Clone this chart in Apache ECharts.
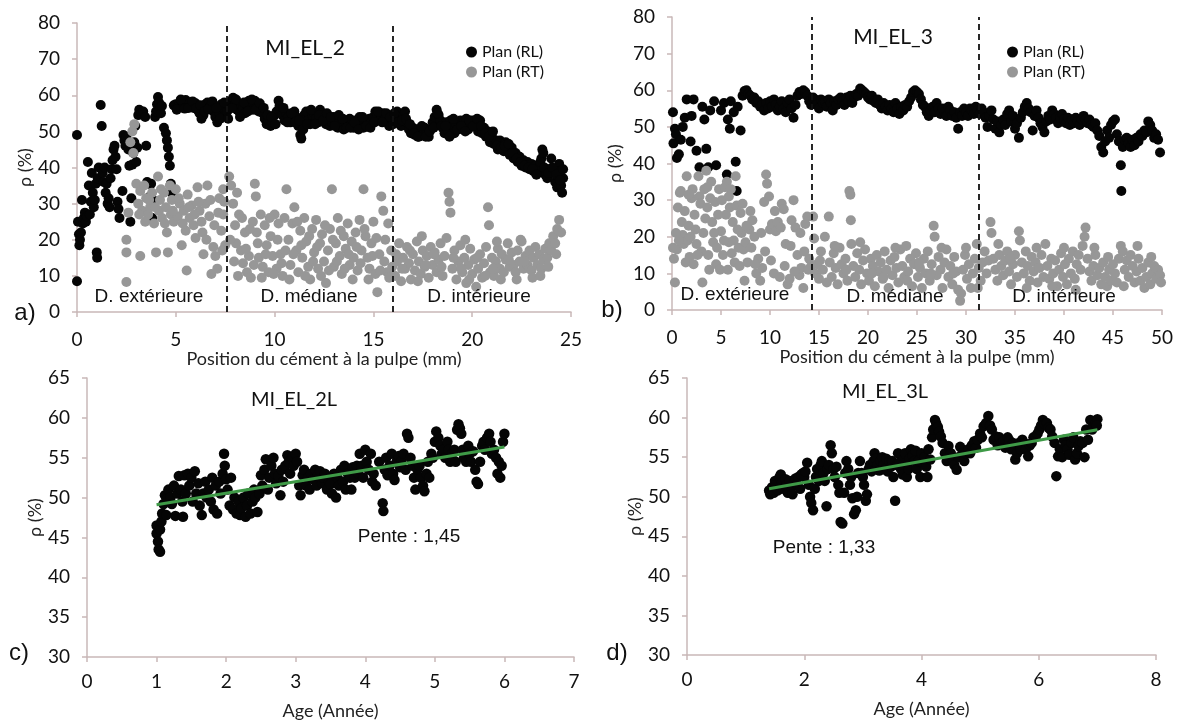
<!DOCTYPE html>
<html><head><meta charset="utf-8">
<script src="https://cdn.jsdelivr.net/npm/echarts@6/dist/echarts.min.js"></script>
<style>html,body{margin:0;padding:0;background:#fff}#c{width:1181px;height:722px}</style>
</head><body><div id="c"></div>
<script>
// ---------- DATA ----------
const seriesNames = ['Plan (RL)', 'Plan (RT)'];
const panelTitles = ['MI_EL_2', 'MI_EL_3', 'MI_EL_2L', 'MI_EL_3L'];
const zoneNames = ['D. extérieure', 'D. médiane', 'D. intérieure'];
const slopeLabels = ['Pente : 1,45', 'Pente : 1,33'];
const aZoneBounds = [7.6, 16.0];
const bZoneBounds = [14.3, 31.3];

const aRL = [[0.0,49],[0.0,8.5],[0.05,25],[0.1,21.5],[0.12,18.5],[0.15,20],[0.2,22],[0.25,31],[0.3,24.5],[0.35,26],[0.4,27.5],[0.45,25],[0.5,26.5],[0.55,41.5],[0.6,35],[0.65,27],[0.7,30.5],[0.75,38.5],[0.8,33],[0.85,29],[0.9,31],[0.95,35.5],[1.0,16.5],[1.02,15],[1.05,37],[1.1,40],[1.2,57.3],[1.25,51.5],[1.3,38.5],[1.35,36],[1.4,40],[1.45,33],[1.5,35.5],[1.55,30],[1.6,31.5],[1.65,29],[1.7,37],[1.75,39.5],[1.8,42],[1.85,45],[1.9,46],[1.95,43],[2.0,39.5],[2.05,30.5],[2.1,28.5],[2.15,26],[2.3,33.5],[2.35,49],[2.4,47.5],[2.45,46],[2.5,48.5],[2.6,45],[2.65,40.5],[2.7,25],[2.75,31.5],[2.8,40.8],[2.85,44],[2.9,47],[2.95,51.5],[3.0,41.5],[3.05,45.5],[3.1,54.5],[3.15,56],[3.25,55],[3.35,55.5],[3.45,54],[3.5,46],[3.55,36],[3.6,35.5],[3.7,32],[3.75,35.5],[3.8,26],[3.85,31],[3.95,54],[4.0,55.5],[4.05,57.5],[4.1,59.5],[4.15,58],[4.2,56.5],[4.25,55],[4.3,57],[4.4,51],[4.5,49.5],[4.55,47.5],[4.6,45.5],[4.65,43],[4.7,40.5],[4.75,35.5],[4.8,33],
[4.9,57.2],[5.0,57.5],[5.1,56.8],[5.2,57.8],[5.3,58.3],[5.4,57.5],[5.5,58.7],[5.6,57.2],[5.7,58.0],[5.8,57.0],[5.9,56.5],[6.0,57.8],[6.1,56.0],[6.2,55.0],[6.3,53.5],[6.4,54.5],[6.5,57.5],[6.6,58.0],[6.7,56.5],[6.8,57.5],[6.9,55.5],[7.0,54.0],[7.1,52.5],[7.2,55.0],[7.3,57.5],[7.4,56.5],[7.5,54.5],[7.6,55.5],[7.7,57.0],[7.8,58.5],[7.9,59.3],[8.0,57.5],[8.1,56.0],[8.2,55.5],[8.3,57.0],[8.4,56.5],[8.5,55.0],[8.6,57.5],[8.7,58.5],[8.8,57.0],[8.9,56.0],[9.0,58.5],[9.1,57.0],[9.2,55.5],[9.3,56.5],[9.4,55.0],[9.5,53.5],[9.6,52.0],[9.7,53.0],[9.8,51.5],[9.9,52.5],[10.0,54.5],[10.1,55.5],[10.2,58.5],[10.3,56.0],[10.4,54.5],[10.5,53.0],[10.6,55.0],[10.7,54.0],[10.8,52.5],[10.9,53.5],[11.0,55.5],[11.1,54.0],[11.2,51.5],[11.3,49.0],[11.35,48.0],[11.4,52.0],[11.5,54.5],[11.6,55.5],[11.7,53.0],[11.8,52.0],[11.9,54.5],[12.0,55.0],[12.1,53.5],[12.2,52.5],[12.3,56.0],[12.4,55.0],[12.5,54.0],[12.6,52.0],[12.7,53.5],[12.8,51.5],[12.9,52.5],[13.0,54.0],[13.1,52.5],[13.2,51.0],[13.3,53.0],[13.4,52.0],[13.5,50.5],[13.6,52.5],[13.7,51.5],[13.8,53.5],[13.9,52.0],[14.0,51.0],[14.1,53.0],[14.2,52.0],[14.3,54.0],[14.4,52.5],[14.5,51.0],[14.6,53.0],[14.7,52.0],[14.8,53.5],[14.9,52.5],[15.0,54.0],[15.1,55.5],[15.2,54.5],[15.3,53.0],[15.4,54.0],[15.5,55.0],[15.6,53.5],[15.7,52.5],[15.8,51.5],[15.9,53.5],[16.0,52.0],[16.1,54.0],[16.2,55.5],[16.3,53.0],[16.4,51.5],[16.5,54.5],[16.6,55.5],[16.7,52.5],[16.8,50.5],[16.9,49.5],[17.0,51.0],[17.1,49.0],[17.2,50.5],[17.3,48.5],[17.4,50.0],[17.5,49.0],[17.6,51.0],[17.7,49.5],[17.8,48.5],[17.9,50.5],[18.0,52.5],[18.1,54.0],[18.2,56.0],[18.3,54.5],[18.4,53.0],[18.5,51.0],[18.6,49.5],[18.7,52.5],[18.8,50.0],[18.9,53.0],[19.0,51.5],[19.1,49.5],[19.2,52.0],[19.3,50.5],[19.4,53.0],[19.5,51.5],[19.6,52.5],[19.7,53.5],[19.8,50.5],[19.9,52.5],[20.0,53.0],[20.1,51.5],[20.2,52.5],[20.3,50.0],[20.4,53.0],[20.5,49.5],[20.6,51.0],[20.7,48.5],[20.8,50.0],[20.9,47.0],[21.0,48.5],[21.1,46.5],[21.2,47.5],[21.3,45.0],[21.4,47.5],[21.5,46.0],[21.6,44.5],[21.7,47.0],[21.8,45.0],[21.9,43.5],[22.0,45.5],[22.1,42.5],[22.2,44.0],[22.3,41.5],[22.4,43.0],[22.5,40.5],[22.6,42.0],[22.7,40.0],[22.8,41.5],[22.9,39.5],[23.0,41.0],[23.1,39.0],[23.2,40.5],[23.3,38.5],[23.4,40.0],[23.5,42.5],[23.55,45.0],[23.6,44.0],[23.7,38.0],[23.8,37.0],[23.9,39.5],[24.0,42.5],[24.1,38.5],[24.2,36.0],[24.3,34.5],[24.35,37.5],[24.4,41.0],[24.45,39.0],[24.5,35.0],[24.55,33.0],[24.6,37.0],
[5.05,56],[5.25,58.8],[5.45,56.3],[5.65,56.5],[5.85,58.3],[6.05,56.5],[6.25,57.2],[6.45,55.5],[6.65,56.2],[6.85,58.3],[7.05,56.5],[7.25,53.5],[7.45,58],[7.65,53.5],[7.85,56.5],[8.05,58.8],[8.25,54],[8.45,58],[8.65,55.5],[8.85,58.8],[9.05,56],[9.25,57.8],[9.45,56.5],[9.65,54.5],[9.85,54],[10.05,52],[10.25,57],[10.45,56.5],[10.65,52.5],[10.85,55],[11.05,52.5],[11.25,53],[11.45,50.5],[11.65,52],[11.85,56],[12.05,52],[12.25,54.5],[12.45,53],[12.65,55],[12.85,54],[13.05,51.5],[13.25,54.5],[13.45,53.5],[13.65,51],[13.85,51],[14.05,52.5],[14.25,50.5],[14.45,54],[14.65,51.5],[14.85,51],[15.05,52.5],[15.25,55.5],[15.45,52.5],[15.65,55],[15.85,54],[16.05,55],[16.25,52.5],[16.45,53],[16.65,53.5],[16.85,52],[17.05,49.5],[17.25,48.5],[17.45,51.5],[17.65,48.5],[17.85,50],[18.05,51],[18.25,55],[18.45,51.5],[18.65,51.5],[18.85,48.5],[19.05,53.5],[19.25,50.5],[19.45,51.5],[19.65,50],[19.85,53],[20.05,51.5],[20.25,53.5],[20.45,51.5],[20.65,49.5],[20.85,48.5],[21.05,50],[21.25,46],[21.45,45.5],[21.65,46],[21.85,46.5],[22.05,44],[22.25,42.5],[22.45,41.5],[22.65,40.5],[22.85,40],[23.05,39.5],[23.25,38],[23.45,41.5],[23.65,40],[23.85,38.5],[24.05,40],[24.25,38],[24.45,36.5],[24.6,39.5]];

const aRT = [[2.5,20],[2.5,16.5],[2.5,8.3],[2.6,27.5],[2.7,47],[2.8,50],[2.9,52],[2.85,44],[3.0,35.5],[3.1,30],[3.2,15.5],[3.2,33.5],[3.3,28],[3.4,35],[3.5,31.5],[3.6,27],[3.7,29],[3.8,33],[3.9,24.5],[4.0,16.5],[4.1,37.5],[4.15,28],[4.2,31],[4.3,26],[4.4,33],[4.5,29],[4.55,22],[4.6,16.5],[4.7,35],[4.75,27],[4.8,31],[4.9,25],
[5.0,34],[5.1,26.5],[5.2,30],[5.3,18.5],[5.4,28],[5.5,22.5],[5.55,11.5],[5.6,32.5],[5.7,26],[5.8,29.5],[5.9,24],[6.0,20.5],[6.1,34.5],[6.2,28],[6.3,25],[6.4,16],[6.5,30],[6.6,35],[6.7,26.5],[6.8,10.5],[6.9,18],[7.0,15.5],[7.1,12],[7.2,31.5],[7.3,22.5],[7.4,27],[7.5,18.5],[7.4,34],
[7.7,37.5],[7.8,35],[7.9,30],[8.0,24],[8.05,19],[8.1,33],[8.2,27],[8.3,17],[8.4,13.5],[8.5,22],[8.6,11],[8.7,15.5],[8.8,9.5],[8.9,25],[9.0,35.5],[9.05,32],[9.1,22],[9.2,15],[9.3,27],[9.4,12.5],[9.5,24],[9.6,18.5],[9.7,11],[9.8,21],[9.9,15.5],[10.0,27],[10.1,12],[10.2,24.5],[10.3,16],[10.4,10],[10.5,26],[10.6,34],[10.7,20],[10.8,13],[10.9,24.5],[11.0,29],[11.1,17],[11.2,11],[11.3,22.5],[11.4,15],[11.5,26],[11.6,19.5],[11.7,12.5],[11.8,9],[11.9,23],[12.0,16.5],[12.1,25.5],[12.2,12],[12.3,19],[12.4,21.5],[12.5,14],[12.6,8],[12.7,17],[12.8,23],[12.9,34],[13.0,12.5],[13.1,19],[13.2,26],[13.3,15.5],[13.4,10.5],[13.5,21],[13.6,17.5],[13.7,24.5],[13.8,13],[13.9,19.5],[14.0,15],[14.1,22],[14.2,11.5],[14.3,25.5],[14.4,17],[14.5,34],[14.6,21],[14.7,15],[14.8,12],[14.9,19],[15.0,25],[15.1,10.5],[15.2,5.5],[15.3,16],[15.4,32],[15.5,28],[15.6,20],[15.7,11],[15.8,9.5],[15.9,17],
[16.1,10],[16.2,14],[16.3,19],[16.4,8.5],[16.5,15],[16.6,12],[16.7,18],[16.8,13.5],[16.9,9],[17.0,16],[17.1,11.5],[17.2,19.5],[17.3,14],[17.4,10.5],[17.5,17],[17.6,12.5],[17.7,15.5],[17.8,9.5],[17.9,18],[18.0,13],[18.1,16.5],[18.2,11],[18.3,14.5],[18.4,19],[18.5,10],[18.6,15.5],[18.7,20.5],[18.8,33],[18.85,30.5],[18.9,27.5],[19.0,12],[19.1,17],[19.2,9],[19.3,14],[19.4,18.5],[19.5,11],[19.6,15],[19.7,8],[19.8,13],[19.9,17.5],[20.0,10.5],[20.1,14.5],[20.2,7],[20.3,12],[20.4,16],[20.5,9.5],[20.6,13.5],[20.7,18],[20.8,29],[20.85,24],[20.9,11],[21.0,15],[21.1,10],[21.2,14],[21.3,17.5],[21.4,12],[21.5,16],[21.6,11],[21.7,14.5],[21.8,19],[21.9,12.5],[22.0,16.5],[22.1,13],[22.2,11],[22.3,17],[22.4,14],[22.5,19.5],[22.6,12],[22.7,15.5],[22.8,13],[22.9,17],[23.0,11.5],[23.1,15],[23.2,18],[23.3,13],[23.4,16],[23.5,12],[23.6,14.5],[23.7,17.5],[23.8,15],[23.9,19],[24.0,17],[24.1,21],[24.2,19],[24.3,23],[24.4,25.5],[24.5,22],
[16.15,16],[16.45,12],[16.85,17],[17.25,8.5],[17.65,13],[18.05,16],[18.45,12.5],[19.05,15],[19.45,12],[19.85,9],[20.25,15],[20.65,10],[21.05,12],[21.45,9],[21.85,14.5],[22.25,9],[22.65,14],[23.05,9.5],[23.45,10],[23.85,12.5],[24.25,16],[22.45,20],[21.25,19.5],[19.65,20],[17.45,21],
[7.75,20],[7.95,14],[8.15,10],[8.35,26],[8.55,17.5],[8.75,23],[8.95,13],[9.15,19],[9.35,9.5],[9.55,16],[9.75,26],[9.95,10.5],[10.15,20],[10.35,13.5],[10.55,17],[10.75,9],[10.95,16],[11.15,25],[11.35,18.5],[11.55,10],[11.75,21],[11.95,14],[12.15,18],[12.35,10],[12.55,24],[12.75,11.5],[12.95,20],[13.15,14],[13.35,22.5],[13.55,12],[13.75,16],[13.95,9],[14.15,18],[14.35,13.5],[14.55,23],[14.75,9],[14.95,15.5],[15.15,20.5],[15.35,11.5],[15.55,14],[15.75,24.5],[15.95,12.5],
[3.15,27],[3.45,25],[3.65,31],[3.95,29],[4.25,34],[4.45,24.5],[4.85,28],[5.15,31.5],[5.35,24.5],[5.65,29],[5.95,27],[6.15,30.5],[6.35,22],[6.55,20],[6.75,31],[6.95,24],[7.15,27.5],[7.35,17],[7.45,30.5]];

const bRL = [[0.1,54],[0.15,45.5],[0.3,49.5],[0.4,48],[0.5,41.5],[0.7,42.5],[0.9,46.5],[1.1,50],[1.3,52.5],[1.5,57.5],[1.9,46],[2.0,53],[2.2,57.5],[2.5,43.5],[2.8,39],[3.1,55.5],[3.3,52],[3.5,44],[3.7,39],[3.9,54.5],[4.3,57],[4.5,39.5],[5.0,54.5],[5.3,56.5],[5.6,37],[5.7,52],[5.9,49.5],[6.0,57],[6.3,54],[6.5,40.5],[6.6,32.5],[6.7,55.5],[7.0,49],
[7.2,58.5],[7.4,59.8],[7.6,60],[7.8,59],[8.0,58.5],[8.2,57.5],[8.4,58],[8.6,56.5],[8.8,57],[9.0,55.5],[9.2,56],[9.4,54.5],[9.6,56.5],[9.8,55],[10.0,57],[10.2,55.5],[10.4,57.5],[10.6,56],[10.8,54.5],[11.0,55.5],[11.2,57],[11.4,55],[11.6,54],[11.8,56.5],[12.0,57.5],[12.2,55],[12.4,52.5],[12.6,56],[12.8,58.5],[13.0,59.5],[13.2,59],[13.4,60],[13.6,59.5],[13.8,58.5],[14.0,57],[14.2,56],[14.4,58],[14.6,57.5],[14.8,56],[15.0,55],[15.2,57.5],[15.4,56.5],[15.6,57],[15.8,55.5],[16.0,57.5],[16.2,56.5],[16.4,54.5],[16.6,57],[16.8,56],[17.0,57.5],[17.2,58],[17.4,57],[17.6,56],[17.8,58],[18.0,57],[18.2,58.5],[18.4,56.5],[18.6,58],[18.8,59],[19.0,58.5],[19.2,60.5],[19.4,60],[19.6,59.5],[19.8,59],[20.0,58],[20.2,57.5],[20.4,58.5],[20.6,57],[20.8,56.5],[21.0,57.5],[21.2,56],[21.4,55],[21.6,56.5],[21.8,55.5],[22.0,54.5],[22.2,56],[22.4,55],[22.6,54],[22.8,56.5],[23.0,55],[23.2,53.5],[23.4,55.5],[23.6,54.5],[23.8,56],[24.0,55.5],[24.2,57],[24.4,58],[24.6,59.5],[24.8,60],[25.0,59.5],[25.2,59],[25.4,57.5],[25.6,56],[25.8,55.5],[26.0,54],[26.2,53],[26.4,54.5],[26.6,55.5],[26.8,54],[27.0,56.5],[27.2,55],[27.4,53.5],[27.6,55],[27.8,54],[28.0,53],[28.2,55.5],[28.4,54.5],[28.6,53],[28.8,54],[29.0,52.5],[29.2,49.5],[29.4,54],[29.6,53],[29.8,55],[30.0,54],[30.2,53],[30.4,55],[30.6,54.5],[30.8,53.5],[31.0,55.5],[31.2,54.5],[31.4,53.5],[31.6,55],[31.8,54],[32.0,52.5],[32.2,50],[32.4,53],[32.6,54.5],[32.8,52],[33.0,49.5],[33.2,51.5],[33.4,48.5],[33.6,50.5],[33.8,52],[34.0,50.5],[34.2,53.5],[34.4,54.5],[34.6,51.5],[34.8,53],[35.0,49.5],[35.2,51],[35.4,47],[35.6,52.5],[35.8,54],[36.0,55.5],[36.2,56.5],[36.4,55],[36.6,54],[36.8,49],[37.0,53],[37.2,54.5],[37.4,52.5],[37.6,51],[37.8,50],[38.0,48.5],[38.2,51.5],[38.4,53],[38.6,52],[38.8,54.5],[39.0,53.5],[39.2,52.5],[39.4,51],[39.6,52.5],[39.8,53.5],[40.0,52],[40.2,51],[40.4,52.5],[40.6,50.5],[40.8,52],[41.0,51],[41.2,52.5],[41.4,51.5],[41.6,50.5],[41.8,52],[42.0,53],[42.2,52],[42.4,51],[42.6,52],[42.8,50.5],[43.0,50],[43.2,51],[43.4,49],[43.6,47.5],[43.8,44.5],[44.0,43],[44.2,46],[44.4,49],[44.6,47],[44.8,50.5],[45.0,51.5],[45.2,52],[45.4,48],[45.6,46],[45.8,39.5],[45.85,32.5],[46.0,44.5],[46.2,46.5],[46.4,47],[46.6,45.5],[46.8,44.5],[47.0,46.5],[47.2,45],[47.4,47],[47.6,46],[47.8,48],[48.0,47.5],[48.2,49],[48.4,48.5],[48.6,51.5],[48.8,50.5],[49.0,49],[49.2,47],[49.4,48],[49.6,46.5],[49.8,43]];

const bRT = [[0.1,17],[0.2,14],[0.3,7.5],[0.5,16.5],[0.6,28],[0.8,32],[0.9,32.5],[1.0,24],[1.1,20.5],[1.2,18],[1.4,13],[1.5,36.5],[1.6,19],[1.7,23],[1.8,14.5],[1.9,20],[2.0,30.5],[2.1,33],[2.2,12.5],[2.4,22],[2.5,18],[2.7,36.5],[2.8,31],[2.9,29],[3.0,16],[3.1,7.5],[3.2,21],[3.3,33],[3.5,38],[3.6,28],[3.7,15],[3.8,11],[3.9,30.5],[4.0,35],[4.1,24],[4.2,18.5],[4.4,29.5],[4.5,12.5],[4.6,17],[4.8,33],[4.9,11],[5.0,21.5],[5.1,30],[5.2,15],[5.4,33.5],[5.5,26],[5.6,35],[5.7,11],[5.8,18.5],[5.9,28],[6.0,33],[6.2,24],[6.3,19],[6.4,13],[6.5,36.5],[6.6,28.5],[6.8,17],[6.9,12],[7.0,26.5],[7.1,21],[7.3,16.5],[7.4,8],[7.5,18.5],[7.7,13],[7.9,22],[8.0,27],[8.2,24.5],[8.4,20],[8.6,10],[8.8,14],[9.0,8],[9.2,11.5],[9.4,29.5],[9.6,37],[9.7,34.5],[9.9,31],[10.0,22],[10.2,23.5],[10.4,10],[10.6,21.5],[10.8,24],[11.0,9],[11.2,29],[11.4,27.5],[11.6,18],[11.8,7],[12.0,8.5],[12.2,24.5],[12.4,30],[12.6,22.5],[12.8,15],[13.0,9.5],[13.2,11.5],[13.4,6],[13.6,23.5],[13.8,25.5],[14.0,14],[14.2,12],
[14.4,25.5],[14.5,19.5],[14.6,10],[14.8,12.5],[15.0,8.5],[15.2,16],[15.4,11],[15.6,20],[15.8,7.5],[16.0,25.5],[16.1,13],[16.3,9],[16.5,15.5],[16.7,11.5],[16.9,7],[17.1,17],[17.3,12.5],[17.5,10],[17.7,14],[17.9,8],[18.1,32.5],[18.2,31.5],[18.25,24.5],[18.3,18],[18.5,12],[18.7,9],[18.9,15.5],[19.1,11],[19.3,7],[19.5,13.5],[19.7,16.5],[19.9,10],[20.1,8],[20.3,14],[20.5,12],[20.7,6.5],[20.9,15],[21.1,10.5],[21.3,13],[21.5,8.5],[21.7,16],[21.9,11],[22.1,6],[22.3,13.5],[22.5,9.5],[22.7,14.5],[22.9,11.5],[23.1,7.5],[23.3,16.5],[23.5,12],[23.7,9],[23.9,17.5],[24.1,10.5],[24.3,14],[24.5,6.5],[24.7,12.5],[24.9,15.5],[25.1,9],[25.3,11.5],[25.5,6],[25.7,14],[25.9,10],[26.1,16],[26.3,8],[26.5,12.5],[26.7,23],[26.8,20],[27.0,9.5],[27.2,14.5],[27.4,11],[27.6,6],[27.8,13],[28.0,16.5],[28.2,9],[28.4,12],[28.6,7],[28.8,14.5],[29.0,10.5],[29.2,5.5],[29.4,2.5],[29.5,4.5],[29.7,11],[29.9,15],[30.1,8.5],[30.3,12.5],[30.5,6],[30.7,10],[30.9,14],[31.1,18],[31.3,11.5],[31.5,8],[31.7,13],[31.9,16],[32.1,10],[32.3,13.5],[32.5,24],[32.6,21],[32.8,14],[33.0,11],[33.2,8],[33.4,15],[33.6,12],[33.8,9.5],[34.0,13.5],[34.2,16],[34.4,10.5],[34.6,7],[34.8,12.5],[35.0,15],[35.2,9],[35.4,21.5],[35.5,19],[35.7,13],[35.9,10],[36.1,16],[36.3,12],[36.5,8],[36.7,14.5],[36.9,10.5],[37.1,13],[37.3,7.5],[37.5,11.5],[37.7,15],[37.9,9],[38.1,18],[38.3,12],[38.5,8.5],[38.7,14],[38.9,10],[39.1,13.5],[39.3,6.5],[39.5,11],[39.7,15.5],[39.9,9],[40.1,12.5],[40.3,7],[40.5,14],[40.7,10],[40.9,16],[41.1,8.5],[41.3,12.5],[41.5,15],[41.7,11],[41.9,17.5],[42.1,20],[42.2,22.5],[42.4,14],[42.6,10.5],[42.8,8],[43.0,12],[43.2,15],[43.4,9.5],[43.6,11.5],[43.8,7],[44.0,13],[44.2,9],[44.4,6.5],[44.6,11],[44.8,8],[45.0,12.5],[45.2,10],[45.4,7.5],[45.6,14],[45.8,17.5],[46.0,16],[46.2,11],[46.4,13.5],[46.6,9],[46.8,15],[47.0,12],[47.2,7.5],[47.4,10.5],[47.6,14],[47.8,8],[48.0,11.5],[48.2,6],[48.4,9],[48.6,13],[48.8,7],[49.0,10],[49.2,12],[49.4,8.5],[49.6,11],[49.8,9.5],[49.9,7.5],
[15.1,13.5],[16.6,17.5],[17.8,11],[19.2,18.5],[20.4,10],[21.6,9],[22.8,17],[24.0,8],[25.2,13],[26.4,10],[27.5,17],[28.7,10],[30.0,17],[31.2,6],[33.3,18],[34.5,14],[36.2,6],[37.2,17],[38.8,6.5],[40.0,17],[41.2,5.5],[43.1,17],[44.5,14.5],[46.1,6.5],[47.5,17.5],[48.9,14.5],
[0.4,21],[0.7,19],[1.3,27],[1.7,31.5],[2.3,26],[2.6,15],[3.4,25],[3.6,33.5],[4.3,21],[4.7,26],[5.3,19],[5.8,31],[6.1,15.5],[6.7,22],[7.2,29],[7.6,23],[8.1,17],[8.5,12.5],[9.1,21],[9.5,16],[10.1,13.5],[10.5,27],[11.1,22.5],[11.5,12],[12.1,17.5],[12.5,10.5],[13.1,21],[13.5,16],[13.9,11]];

const cPts = [[1.0,46.5],[1.0,45.5],[1.02,44.5],[1.03,43.5],[1.05,43.2],[1.05,46],[1.07,47],[1.08,48],[1.1,49.2],[1.12,50.3],[1.14,47.8],[1.15,49.8],[1.17,51],[1.2,50],[1.22,49.2],[1.25,51.5],[1.27,47.7],[1.3,50.5],[1.32,52.7],[1.35,51],[1.37,49.5],[1.38,47.6],[1.4,52.8],[1.42,50.5],[1.45,53],[1.47,51.5],[1.5,52.5],[1.52,49.5],[1.55,53.3],[1.57,50.5],[1.6,51.8],[1.62,49],[1.65,47.8],[1.67,50.5],[1.7,52],[1.72,50],[1.75,51],[1.78,49.5],[1.8,52.5],[1.82,48.5],[1.85,51.5],[1.87,48],[1.9,52],[1.92,50.5],[1.95,53],[1.97,55.5],[1.98,54],[2.0,52.3],[2.02,51],[2.05,49],[2.07,52.5],[2.1,48.5],[2.12,50],[2.15,48],[2.18,49.5],[2.2,47.8],[2.22,48.7],[2.25,50],[2.28,47.6],[2.3,49],[2.32,50.5],[2.35,48],[2.38,49.5],[2.4,51],[2.42,50],[2.45,48.2],[2.48,50.5],[2.5,52.8],[2.52,51.5],[2.55,53.5],[2.57,54.8],[2.6,51],[2.62,52.5],[2.65,54],[2.68,55],[2.7,53],[2.72,51.8],[2.75,52.7],[2.78,50.3],[2.8,53.5],[2.82,52],[2.85,54],[2.88,55.3],[2.9,54.5],[2.92,53],[2.95,55],[2.97,54],[3.0,55.5],[3.02,54.5],[3.05,51.5],[3.07,50.3],[3.1,52.8],[3.12,53.5],[3.15,51.5],[3.18,52.5],[3.2,51],[3.22,53],[3.25,52.3],[3.28,53.5],[3.3,51.5],[3.32,52.8],[3.35,53.3],[3.38,51.8],[3.4,52.5],[3.42,53],[3.45,51],[3.48,52],[3.5,51.7],[3.52,50.5],[3.55,53],[3.58,50],[3.6,52.5],[3.62,51.5],[3.65,53.5],[3.68,52],[3.7,54],[3.72,51],[3.75,53],[3.78,52.5],[3.8,51],[3.82,53.8],[3.85,52.5],[3.88,54],[3.9,53],[3.92,55.5],[3.95,54],[3.97,52.5],[4.0,56],[4.02,54.5],[4.05,53.5],[4.08,55.5],[4.1,52],[4.12,53],[4.15,51.5],[4.2,54.5],[4.25,49.3],[4.26,48.3],[4.28,53.5],[4.3,55],[4.32,52.8],[4.35,54],[4.38,55.5],[4.4,53],[4.42,52.2],[4.45,54.5],[4.48,55.2],[4.5,53.8],[4.52,54.6],[4.55,55.5],[4.58,53.5],[4.6,58],[4.62,57.5],[4.65,55],[4.68,54],[4.7,52.5],[4.72,51],[4.75,53.5],[4.78,54],[4.8,52.5],[4.83,51.5],[4.85,50.8],[4.88,53],[4.9,54.5],[4.92,52.5],[4.95,55.5],[4.97,55],[5.0,57],[5.02,58.3],[5.05,57.5],[5.08,56.5],[5.1,55.5],[5.12,56],[5.15,55],[5.18,57],[5.2,56],[5.22,54.5],[5.25,55.5],[5.28,56],[5.3,54.5],[5.32,58.5],[5.34,59.2],[5.36,58.7],[5.38,58],[5.4,56],[5.42,55],[5.45,54.5],[5.48,56.5],[5.5,55.5],[5.52,54.5],[5.55,55.8],[5.58,53.5],[5.6,52],[5.62,51.7],[5.65,54.5],[5.68,56.5],[5.7,57],[5.72,56],[5.75,57.5],[5.78,58],[5.8,57],[5.82,55.5],[5.85,56],[5.88,55],[5.9,53],[5.92,54.5],[5.94,52.5],[5.96,54],[5.98,57],[6.0,58]];

const dPts = [[1.4,50.8],[1.42,50.3],[1.45,51.2],[1.48,50.5],[1.5,52],[1.52,51.5],[1.55,50.8],[1.58,52.5],[1.6,52.8],[1.62,51.8],[1.65,51],[1.68,52.2],[1.7,51.5],[1.72,50.5],[1.75,52],[1.78,51.2],[1.8,50.3],[1.83,51.8],[1.85,52.3],[1.88,51.5],[1.9,52.5],[1.93,51],[1.95,52.8],[1.98,53],[2.0,52.5],[2.02,53.2],[2.05,54.3],[2.08,51.5],[2.1,50],[2.12,49.2],[2.15,48.3],[2.18,51],[2.2,52.5],[2.22,53.5],[2.25,52],[2.28,54],[2.3,54.5],[2.33,53],[2.35,52],[2.38,48.8],[2.4,53.5],[2.42,54],[2.45,56.5],[2.47,55.5],[2.5,53.5],[2.52,52.5],[2.55,53.8],[2.58,51.5],[2.6,50.5],[2.62,46.8],[2.65,46.6],[2.68,50.5],[2.7,53],[2.72,54.5],[2.75,53.5],[2.78,51.5],[2.8,52.5],[2.82,49.8],[2.85,47.8],[2.88,48.3],[2.9,50],[2.92,53],[2.95,54.5],[2.98,53],[3.0,52.5],[3.02,51.5],[3.05,49.5],[3.07,50.3],[3.1,53.5],[3.12,54],[3.15,53.2],[3.18,54.5],[3.2,55.5],[3.22,54.8],[3.25,54],[3.28,53.3],[3.3,54.5],[3.33,55],[3.35,54],[3.38,53.5],[3.4,54.8],[3.42,53.2],[3.45,54.5],[3.48,53.8],[3.5,54.5],[3.52,52.5],[3.55,49.5],[3.58,54],[3.6,55.5],[3.62,54.3],[3.65,53.5],[3.68,52.8],[3.7,54.8],[3.72,55.5],[3.75,52.5],[3.78,53.5],[3.8,54.8],[3.82,56],[3.85,55.2],[3.88,54.5],[3.9,55.8],[3.92,53.5],[3.95,54.5],[3.98,52.5],
[4.0,55.5],[4.02,54.3],[4.05,55],[4.08,53.8],[4.1,52.5],[4.12,56],[4.15,54.7],[4.18,57.5],[4.2,58.5],[4.23,59.7],[4.25,59.3],[4.28,58.8],[4.3,58.2],[4.33,57.6],[4.36,56.8],[4.4,55.5],[4.43,54.5],[4.46,56.4],[4.5,55.5],[4.53,54.7],[4.56,54],[4.6,53.4],[4.63,55],[4.66,56.3],[4.7,55.5],[4.73,54.5],[4.76,55.5],[4.8,56],[4.83,55.5],[4.86,56.5],[4.9,57],[4.93,56.2],[4.96,57.2],[5.0,58],[5.03,57.5],[5.06,58.9],[5.1,59.3],[5.14,60.2],[5.17,59],[5.2,58.5],[5.23,57.2],[5.27,57.6],[5.3,56.5],[5.33,57.5],[5.37,56.8],[5.4,57],[5.43,56.2],[5.47,57.5],[5.5,57.1],[5.53,56],[5.56,56.8],[5.6,54.7],[5.63,55.5],[5.66,56.8],[5.69,56],[5.72,57.2],[5.75,56.8],[5.78,56],[5.82,55.1],[5.85,56.5],[5.88,56.8],[5.91,57.5],[5.95,57.6],[5.98,58],[6.01,58.5],[6.04,59],[6.07,59.7],[6.1,59.2],[6.14,59.3],[6.17,58.7],[6.2,58.5],[6.23,57.6],[6.27,56.8],[6.3,52.6],[6.33,55.1],[6.36,56],[6.4,55],[6.43,57.2],[6.46,56.5],[6.49,56],[6.52,55.3],[6.56,56.8],[6.59,57.5],[6.62,54.7],[6.65,55.5],[6.68,56.4],[6.71,57],[6.75,56.8],[6.78,55],[6.81,58.5],[6.84,57.2],[6.88,59.7],[6.91,58.5],[6.94,58.9],[6.97,59.3],[7.0,59.8],[6.99,59]];

const cFit = [[1.0,49.1],[6.0,56.35]];
const dFit = [[1.4,51.0],[7.0,58.45]];

// ---------- CHART ----------
const AXC = '#c9b8b8';
const TICKFONT = 'Lato, "Open Sans", sans-serif';
const ARIAL = '"Liberation Sans", Arial, sans-serif';
function xa(grid, min, max, interval, name, gap, margin) {
  return {type:'value', gridIndex:grid, min, max, interval,
    name, nameLocation:'middle', nameGap:gap,
    nameTextStyle:{fontFamily:TICKFONT, fontSize:18, color:'#222'},
    axisLine:{show:true, lineStyle:{color:AXC, width:1.5}},
    axisTick:{show:true, length:5, lineStyle:{color:AXC, width:1.5}},
    splitLine:{show:false},
    axisLabel:{fontFamily:TICKFONT, fontSize:19, color:'#111', margin}};
}
function ya(grid, min, max, interval, gap) {
  return {type:'value', gridIndex:grid, min, max, interval,
    name:'ρ (%)', nameLocation:'middle', nameGap:gap, nameRotate:90,
    nameTextStyle:{fontFamily:TICKFONT, fontSize:18, color:'#222'},
    axisLine:{show:true, lineStyle:{color:AXC, width:1.5}},
    axisTick:{show:true, length:5, lineStyle:{color:AXC, width:1.5}},
    splitLine:{show:false},
    axisLabel:{fontFamily:TICKFONT, fontSize:19, color:'#111', margin:17}};
}
function zoneLine(vals){
  return {silent:true, symbol:['none','none'], label:{show:false},
    lineStyle:{color:'#111', type:[6,4], width:1.8},
    data: vals.map(v => ({xAxis:v}))};
}
function txt(x, y, text, font, size) {
  return {type:'text', x, y, z:100, style:{text, fontFamily:font, fontSize:size, fill:'#111',
    align:'center', verticalAlign:'middle', textAlign:'center', textVerticalAlign:'middle'}};
}
const BLACK = '#050505', GRAY = '#979797';
const chart = echarts.init(document.getElementById('c'), null, {renderer:'canvas'});
chart.setOption({
  animation:false,
  backgroundColor:'#ffffff',
  grid:[
    {left:77, right:610, top:23, bottom:410},
    {left:672, right:19, top:17, bottom:412},
    {left:87, right:607, top:378, bottom:65},
    {left:687, right:25, top:378, bottom:67}
  ],
  xAxis:[
    xa(0,0,25,5,'Position du cément à la pulpe (mm)',37,18),
    xa(1,0,50,5,'Position du cément à la pulpe (mm)',37,18),
    xa(2,0,7,1,'Age (Année)',45,15),
    xa(3,0,8,2,'Age (Année)',45,15)
  ],
  yAxis:[ ya(0,0,80,10,40), ya(1,0,80,10,48), ya(2,30,65,5,37), ya(3,30,65,5,43) ],
  legend:[
    {left:461, top:39, orient:'vertical', itemGap:4, itemWidth:11, itemHeight:11,
     textStyle:{fontFamily:TICKFONT, fontSize:16, color:'#111'},
     data:[{name:seriesNames[0], icon:'circle'},{name:seriesNames[1], icon:'circle'}]},
    {left:1002, top:39, orient:'vertical', itemGap:4, itemWidth:11, itemHeight:11,
     textStyle:{fontFamily:TICKFONT, fontSize:16, color:'#111'},
     data:[{name:seriesNames[0], icon:'circle'},{name:seriesNames[1], icon:'circle'}]}
  ],
  series:[
    {name:seriesNames[0], type:'scatter', xAxisIndex:0, yAxisIndex:0, data:aRL, symbolSize:10,
     itemStyle:{color:BLACK, opacity:1}, markLine:zoneLine(aZoneBounds), z:2},
    {name:seriesNames[1], type:'scatter', xAxisIndex:0, yAxisIndex:0, data:aRT, symbolSize:10,
     itemStyle:{color:GRAY, opacity:1}, z:3},
    {name:seriesNames[0], type:'scatter', xAxisIndex:1, yAxisIndex:1, data:bRL, symbolSize:10,
     itemStyle:{color:BLACK, opacity:1}, markLine:zoneLine(bZoneBounds), z:2},
    {name:seriesNames[1], type:'scatter', xAxisIndex:1, yAxisIndex:1, data:bRT, symbolSize:10,
     itemStyle:{color:GRAY, opacity:1}, z:3},
    {name:panelTitles[2], type:'scatter', xAxisIndex:2, yAxisIndex:2, data:cPts, symbolSize:10.5,
     itemStyle:{color:BLACK, opacity:1}, z:2},
    {name:'fitC', type:'line', xAxisIndex:2, yAxisIndex:2, data:cFit, showSymbol:false, symbol:'none',
     lineStyle:{color:'#3f9a47', width:3}, z:4},
    {name:panelTitles[3], type:'scatter', xAxisIndex:3, yAxisIndex:3, data:dPts, symbolSize:10.5,
     itemStyle:{color:BLACK, opacity:1}, z:2},
    {name:'fitD', type:'line', xAxisIndex:3, yAxisIndex:3, data:dFit, showSymbol:false, symbol:'none',
     lineStyle:{color:'#3f9a47', width:3}, z:4}
  ],
  graphic:[
    txt(305,48,panelTitles[0],TICKFONT,21),
    txt(893,37,panelTitles[1],TICKFONT,21),
    txt(294,400,panelTitles[2],TICKFONT,20),
    txt(885,392,panelTitles[3],TICKFONT,20),
    txt(149,297,zoneNames[0],ARIAL,19),
    txt(309,297,zoneNames[1],ARIAL,19),
    txt(479,297,zoneNames[2],ARIAL,19),
    txt(735,295,zoneNames[0],ARIAL,19),
    txt(895,297,zoneNames[1],ARIAL,19),
    txt(1064,297,zoneNames[2],ARIAL,19),
    txt(409,537,slopeLabels[0],ARIAL,19),
    txt(824,548,slopeLabels[1],ARIAL,19),
    txt(25,313,'a)',ARIAL,24),
    txt(612,310,'b)',ARIAL,24),
    txt(19,653,'c)',ARIAL,24),
    txt(617,653,'d)',ARIAL,24)
  ]
});
</script></body></html>
